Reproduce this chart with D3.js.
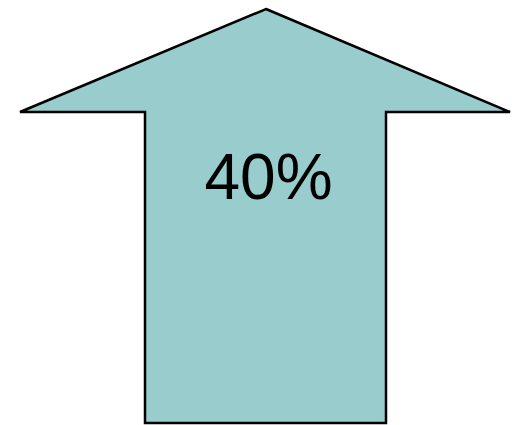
<!DOCTYPE html>
<html>
<head>
<meta charset="utf-8">
<script src="https://cdn.jsdelivr.net/npm/d3@7"></script>
<style>
html,body{margin:0;padding:0;background:#fff;}
svg{display:block;}
</style>
</head>
<body>
<svg id="chart" width="514" height="425"></svg>
<script>
const values = [40];
const labels = ["40%"];

const svg = d3.select("#chart");
// shape scales (unit arrow coordinates -> pixels)
const x = d3.scaleLinear().domain([0, 1]).range([20, 510]);
const y = d3.scaleLinear().domain([0, 1]).range([9, 423]);

const headY = (112 - 9) / (423 - 9);
const shaftL = (145 - 20) / 490;
const shaftR = (386 - 20) / 490;
const tipX = (266 - 20) / 490;

const pts = [
  [tipX, 0], [1, headY], [shaftR, headY], [shaftR, 1],
  [shaftL, 1], [shaftL, headY], [0, headY]
];

svg.selectAll("path.arrow").data(values).enter().append("path")
  .attr("class", "arrow")
  .attr("d", d3.line().x(p => x(p[0])).y(p => y(p[1]))(pts) + "Z")
  .attr("fill", "#99cccc")
  .attr("stroke", "#000")
  .attr("stroke-width", 2.5)
  .attr("stroke-linejoin", "miter");

svg.selectAll("text.lbl").data(labels).enter().append("text")
  .attr("class", "lbl")
  .attr("x", 268.5)
  .attr("y", 199)
  .attr("text-anchor", "middle")
  .attr("font-family", "'Liberation Sans', Arial, sans-serif")
  .attr("font-size", 64)
  .attr("fill", "#000")
  .text(d => d);
</script>
</body>
</html>
